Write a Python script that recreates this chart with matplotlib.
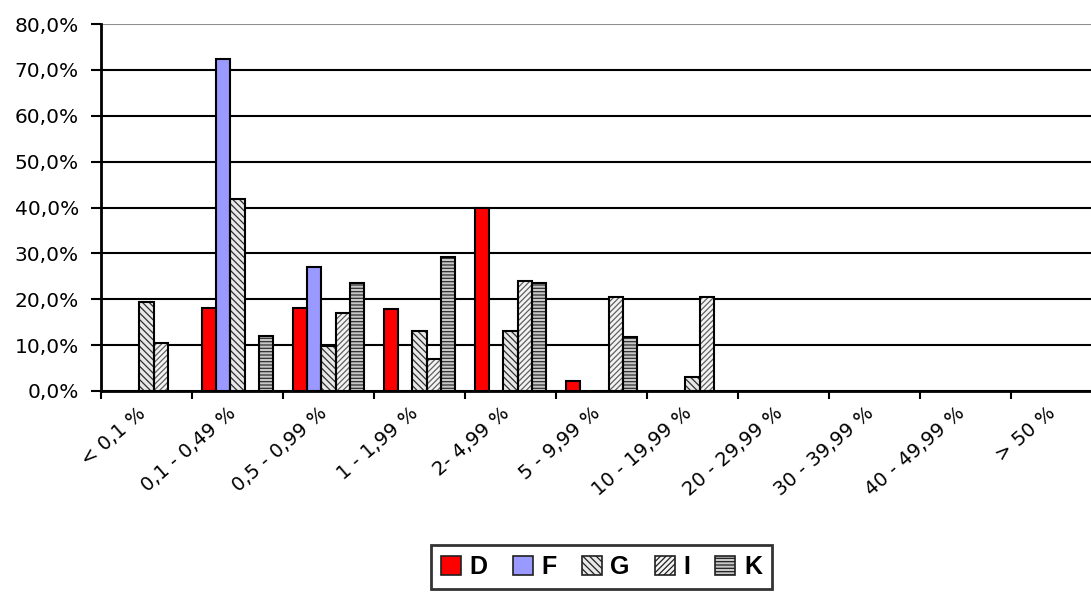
import matplotlib
matplotlib.use("Agg")
import matplotlib.pyplot as plt
from matplotlib.patches import Patch
from matplotlib.transforms import ScaledTranslation
import numpy as np

categories = ["< 0,1 %", "0,1 - 0,49 %", "0,5 - 0,99 %", "1 - 1,99 %", "2- 4,99 %",
              "5 - 9,99 %", "10 - 19,99 %", "20 - 29,99 %", "30 - 39,99 %",
              "40 - 49,99 %", "> 50 %"]
series_names = ["D", "F", "G", "I", "K"]
D = [0.0, 18.0, 18.0, 17.9, 39.8, 2.2, 0.0, 0.0, 0.0, 0.0, 0.0]
F = [0.0, 72.4, 27.1, 0.0, 0.0, 0.0, 0.0, 0.0, 0.0, 0.0, 0.0]
G = [19.3, 41.9, 9.9, 13.1, 13.1, 0.0, 3.1, 0.0, 0.0, 0.0, 0.0]
I = [10.5, 0.0, 17.1, 7.0, 24.0, 20.5, 20.5, 0.0, 0.0, 0.0, 0.0]
K = [0.0, 11.9, 23.6, 29.3, 23.6, 11.8, 0.0, 0.0, 0.0, 0.0, 0.0]
y_ticks = [0, 10, 20, 30, 40, 50, 60, 70, 80]

styles = {
    "D": dict(face="#ff0000", hatch=None, hcol="#ff0000"),
    "F": dict(face="#9999ff", hatch=None, hcol="#9999ff"),
    "G": dict(face="#e8e8e8", hatch="\\\\\\\\\\", hcol="#303030"),
    "I": dict(face="#f4f4f4", hatch="//////", hcol="#606060"),
    "K": dict(face="#c8c8c8", hatch="-----", hcol="#303030"),
}

plt.rcParams["hatch.linewidth"] = 0.9
fig = plt.figure(figsize=(10.91, 5.93), dpi=100)
ax = fig.add_axes([101 / 1091, 1 - 391 / 593, 1001 / 1091, 367 / 593])

x = np.arange(len(categories))
w = 0.157
data = [D, F, G, I, K]
for i, (name, vals) in enumerate(zip(series_names, data)):
    st = styles[name]
    xs = x + (i - 2) * w
    vals = np.array(vals)
    mask = vals > 0
    ax.bar(xs[mask], vals[mask], width=w, color=st["face"], hatch=st["hatch"],
           edgecolor=st["hcol"], linewidth=0, zorder=3)
    ax.bar(xs[mask], vals[mask], width=w, fill=False, edgecolor="black",
           linewidth=1.5, zorder=4)

ax.set_xlim(-0.5, len(categories) - 0.5)
ax.set_ylim(0, 80)
ax.set_yticks(y_ticks)
ax.set_yticklabels([f"{v:.1f}%".replace(".", ",") for v in y_ticks])
ax.set_xticks(np.arange(len(categories) + 1) - 0.5)
ax.set_xticklabels([])
ax.set_xticks(x, minor=True)
ax.set_xticklabels(categories, minor=True, rotation=41, ha="right",
                   rotation_mode="anchor", fontsize=14, family="DejaVu Sans")
ax.tick_params(axis="x", which="minor", length=0, pad=9)
ax.tick_params(axis="x", which="major", length=6, width=1.5, direction="out")
ax.tick_params(axis="y", length=7, width=1.5, direction="out", pad=9,
               labelsize=14.5)
for lab in ax.get_yticklabels():
    lab.set_family("DejaVu Sans")
off = ScaledTranslation(-10 / 100, 0 / 100, fig.dpi_scale_trans)
for lab in ax.get_xticklabels(minor=True):
    lab.set_transform(lab.get_transform() + off)

ax.grid(axis="y", color="black", linewidth=1.5, zorder=1)
ax.get_ygridlines()[-1].set_color("#909090")
ax.set_axisbelow(True)
for s in ["top", "right"]:
    ax.spines[s].set_visible(False)
for s in ["left", "bottom"]:
    ax.spines[s].set_linewidth(2)
    ax.spines[s].set_zorder(5)

handles = [Patch(facecolor=styles[n]["face"], hatch=styles[n]["hatch"],
                 edgecolor="#202020", linewidth=1.2) for n in series_names]
leg = fig.legend(handles, series_names, loc="center", ncol=5,
                 bbox_to_anchor=(601.5 / 1091, 1 - 567 / 593),
                 bbox_transform=fig.transFigure,
                 prop=dict(family="Liberation Sans", weight="bold", size=18),
                 handlelength=0.8, handleheight=0.8, handletextpad=0.35,
                 columnspacing=1.0, borderpad=0.4, fancybox=False,
                 frameon=True, edgecolor="black")
leg.get_frame().set_linewidth(2)

fig.savefig("out.png", dpi=100)
